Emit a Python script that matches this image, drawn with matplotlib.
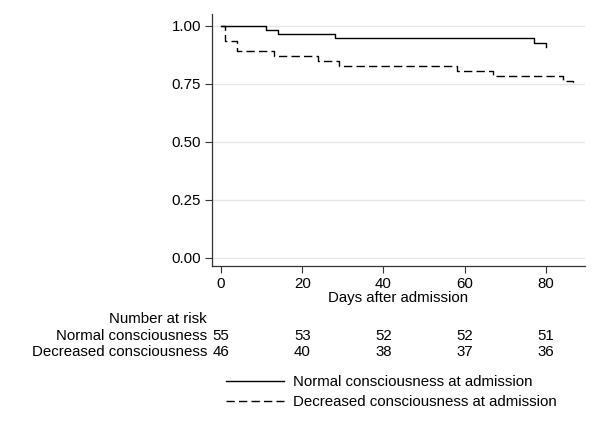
import matplotlib
matplotlib.use("Agg")
import matplotlib.pyplot as plt
import matplotlib.transforms as mtransforms

plt.rcParams["font.family"] = ["Liberation Sans", "DejaVu Sans"]
FS = 10.8

# Kaplan-Meier steps
normal_days = [0, 11, 14, 28, 77, 80, 80]
normal_surv = [1.0, 0.982, 0.964, 0.945, 0.927, 0.909, 0.909]
decreased_days = [0, 1, 4, 13, 24, 29, 58, 67, 84.3, 86.6, 86.6]
decreased_surv = [1.0, 0.935, 0.891, 0.870, 0.848, 0.826, 0.804, 0.783, 0.763, 0.742, 0.742]

# number at risk table
risk_days = [0, 20, 40, 60, 80]
risk_normal = [55, 53, 52, 52, 51]
risk_decreased = [46, 40, 38, 37, 36]

y_ticks = [0.0, 0.25, 0.5, 0.75, 1.0]
y_tick_labels = ["0.00", "0.25", "0.50", "0.75", "1.00"]

fig = plt.figure(figsize=(6.0, 4.37), dpi=100)
ax = fig.add_axes([212 / 600, 1 - 266 / 437, (585 - 212) / 600, (266 - 14) / 437])

ax.step(normal_days, normal_surv, where="post", color="black", lw=1.0,
        label="Normal consciousness at admission")
ax.step(decreased_days, decreased_surv, where="post", color="black", lw=1.0,
        dashes=(6, 3), label="Decreased consciousness at admission")

ax.set_xlim(-2.2, 89.6)
ax.set_ylim(-0.035, 1.05)
ax.set_xticks(risk_days)
ax.set_yticks(y_ticks)
ax.set_yticklabels(y_tick_labels)
ax.tick_params(labelsize=FS, length=5, width=0.8, color="#333333", pad=3)
ax.grid(axis="y", color="#e6e6e6", lw=1.0)
ax.set_axisbelow(True)
for side in ["top", "right"]:
    ax.spines[side].set_visible(False)
for side in ["left", "bottom"]:
    ax.spines[side].set_color("#333333")
    ax.spines[side].set_linewidth(0.9)
ax.set_xlabel("Days after admission", fontsize=FS, labelpad=0)

# number at risk
trans = mtransforms.blended_transform_factory(ax.transData, fig.transFigure)
row_y = [1 - 319 / 437, 1 - 336 / 437, 1 - 352 / 437]
fig.text(207 / 600, row_y[0], "Number at risk", ha="right", va="center", fontsize=FS)
fig.text(207 / 600, row_y[1], "Normal consciousness", ha="right", va="center", fontsize=FS)
fig.text(207 / 600, row_y[2], "Decreased consciousness", ha="right", va="center", fontsize=FS)
for d, n1, n2 in zip(risk_days, risk_normal, risk_decreased):
    ax.text(d, row_y[1], str(n1), transform=trans, ha="center", va="center", fontsize=FS)
    ax.text(d, row_y[2], str(n2), transform=trans, ha="center", va="center", fontsize=FS)

handles, labels = ax.get_legend_handles_labels()
fig.legend(handles, labels, loc="upper left", bbox_to_anchor=(226 / 600, 1 - 375 / 437),
           frameon=False, fontsize=FS, borderpad=0, borderaxespad=0,
           handlelength=3.87, handletextpad=0.58, labelspacing=0.42)

fig.savefig("out.png", dpi=100)
